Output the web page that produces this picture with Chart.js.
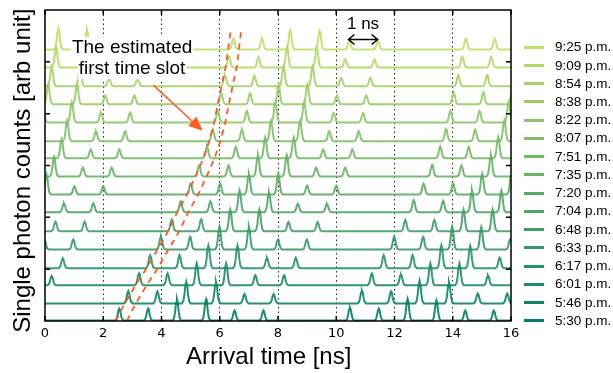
<!DOCTYPE html>
<html>
<head>
<meta charset="utf-8">
<script src="https://cdn.jsdelivr.net/npm/chart.js@4.4.0/dist/chart.umd.min.js"></script>
<style>
  html, body { margin: 0; padding: 0; background: #fff; }
  #wrap { position: relative; width: 613px; height: 373px; }
  #legend { position: absolute; left: 0; top: 0; font: 13.5px "Liberation Sans", Arial, sans-serif; color: #000; }
  .li { position: absolute; left: 524px; height: 18px; width: 89px; }
  .sw { position: absolute; left: 0; top: 7.5px; width: 20px; height: 3px; }
  .lt { position: absolute; left: 31px; top: 0; line-height: 18px; white-space: nowrap; }
</style>
</head>
<body>
<div id="wrap">
  <canvas id="c" width="613" height="373"></canvas>
  <div id="legend"></div>
</div>
<script>
// measurement times, bottom trace first
const labels = ['5:30 p.m.','5:46 p.m.','6:01 p.m.','6:17 p.m.','6:33 p.m.','6:48 p.m.','7:04 p.m.','7:20 p.m.',
                '7:35 p.m.','7:51 p.m.','8:07 p.m.','8:22 p.m.','8:38 p.m.','8:54 p.m.','9:09 p.m.','9:25 p.m.'];
const colors = ['#008066','#0d8666','#1a8c66','#269366','#339966','#409f66','#4da666','#59ac66',
                '#66b366','#73b966','#80bf66','#8cc666','#99cc66','#a6d266','#b3d966','#bfdf66'];

// vertical offset of each trace (arb unit)
const baselines = [0.01, 0.34, 0.69, 1.02, 1.38, 1.73, 2.10, 2.44, 2.79, 3.14, 3.47, 3.83, 4.18, 4.53, 4.89, 5.24];

// peak arrival times [ns] and peak heights, one row per trace
const peakTimes = [
  [2.55, 3.54, 4.53, 5.53, 6.51, 7.50, 10.47, 11.46, 12.45, 13.44, 14.43, 15.41],
  [2.86, 3.86, 4.85, 5.87, 6.85, 7.85, 10.88, 11.88, 12.86, 13.87, 14.86, 15.87],
  [0.23, 3.23, 4.21, 5.21, 6.22, 7.22, 8.21, 11.22, 12.22, 13.23, 14.23, 15.21],
  [0.61, 3.61, 4.62, 5.61, 6.61, 7.62, 8.61, 11.63, 12.62, 13.61, 14.60, 15.61],
  [-0.02, 0.97, 3.98, 4.98, 5.99, 7.00, 8.00, 8.99, 11.99, 12.98, 13.98, 14.98, 15.97],
  [0.36, 1.36, 4.35, 5.36, 6.36, 7.36, 8.36, 9.36, 12.37, 13.37, 14.37, 15.37],
  [0.65, 1.66, 4.66, 5.68, 6.68, 7.69, 8.68, 9.68, 12.66, 13.67, 14.66, 15.67],
  [0.05, 1.01, 2.00, 5.00, 6.01, 7.00, 8.01, 9.00, 10.00, 13.00, 14.01, 15.01, 16.01],
  [0.31, 1.30, 2.29, 5.29, 6.30, 7.31, 8.30, 9.31, 10.31, 13.29, 14.30, 15.31],
  [0.57, 1.57, 2.55, 5.56, 6.55, 7.56, 8.54, 9.55, 10.55, 13.57, 14.55, 15.56],
  [0.76, 1.75, 2.75, 5.76, 6.76, 7.76, 8.76, 9.76, 10.77, 13.77, 14.77, 15.77],
  [-0.07, 0.92, 1.92, 2.92, 5.93, 6.93, 7.91, 8.90, 9.91, 10.92, 13.92, 14.92, 15.92],
  [0.11, 1.10, 2.07, 3.07, 6.05, 7.04, 8.02, 9.01, 10.02, 11.03, 14.03, 15.05, 16.05],
  [0.23, 1.20, 2.20, 3.18, 6.18, 7.19, 8.19, 9.19, 10.17, 11.17, 14.19, 15.18],
  [0.38, 1.37, 2.35, 3.34, 6.32, 7.33, 8.31, 9.33, 10.31, 11.31, 14.33, 15.32],
  [0.46, 1.44, 2.47, 3.47, 6.47, 7.45, 8.42, 9.43, 10.45, 11.43, 14.45, 15.44]
];
const peakHeights = [
  [0.23, 0.23, 0.41, 0.41, 0.19, 0.19, 0.25, 0.23, 0.42, 0.39, 0.19, 0.19],
  [0.24, 0.23, 0.42, 0.42, 0.18, 0.18, 0.25, 0.23, 0.44, 0.41, 0.19, 0.19],
  [0.18, 0.23, 0.23, 0.42, 0.42, 0.19, 0.19, 0.23, 0.21, 0.42, 0.42, 0.19],
  [0.19, 0.25, 0.25, 0.44, 0.44, 0.20, 0.20, 0.25, 0.25, 0.44, 0.43, 0.20],
  [0.19, 0.19, 0.25, 0.24, 0.44, 0.44, 0.19, 0.19, 0.25, 0.24, 0.44, 0.43, 0.19],
  [0.19, 0.19, 0.23, 0.23, 0.42, 0.42, 0.18, 0.18, 0.22, 0.22, 0.42, 0.42],
  [0.17, 0.17, 0.21, 0.21, 0.42, 0.38, 0.16, 0.16, 0.23, 0.22, 0.42, 0.41],
  [0.39, 0.16, 0.16, 0.21, 0.21, 0.40, 0.40, 0.17, 0.17, 0.21, 0.21, 0.40, 0.40],
  [0.37, 0.17, 0.17, 0.21, 0.21, 0.41, 0.41, 0.17, 0.17, 0.22, 0.21, 0.41],
  [0.37, 0.17, 0.17, 0.23, 0.22, 0.40, 0.40, 0.17, 0.17, 0.23, 0.22, 0.41],
  [0.39, 0.19, 0.19, 0.23, 0.22, 0.39, 0.39, 0.19, 0.19, 0.23, 0.22, 0.39],
  [0.39, 0.39, 0.19, 0.19, 0.23, 0.22, 0.39, 0.39, 0.18, 0.18, 0.23, 0.22, 0.39],
  [0.38, 0.38, 0.17, 0.17, 0.22, 0.21, 0.38, 0.38, 0.17, 0.17, 0.23, 0.23, 0.38],
  [0.38, 0.38, 0.16, 0.16, 0.21, 0.20, 0.38, 0.38, 0.16, 0.16, 0.21, 0.21],
  [0.38, 0.38, 0.17, 0.17, 0.21, 0.20, 0.38, 0.38, 0.16, 0.16, 0.21, 0.21],
  [0.41, 0.38, 0.17, 0.17, 0.21, 0.21, 0.37, 0.36, 0.17, 0.17, 0.21, 0.21]
];

// single photon pulse outline (offset in ns, fraction of peak height)
const pulseDx  = [-0.15, -0.1, -0.065, -0.03, 0, 0.03, 0.065, 0.1, 0.15];
const pulseRel = [0, 0.1, 0.38, 0.84, 1, 0.84, 0.38, 0.1, 0];

// orange dashed guides around the first time slot
const guideY      = [0.00, 0.34, 0.69, 1.02, 1.38, 1.73, 2.10, 2.44, 2.79, 3.14, 3.47, 3.83, 4.18, 4.53, 4.89, 5.62];
const guideLeftX  = [2.43, 2.74, 3.11, 3.49, 3.86, 4.23, 4.54, 4.88, 5.17, 5.44, 5.64, 5.81, 5.93, 6.06, 6.20, 6.38];
const guideRightX = [2.81, 3.12, 3.49, 3.87, 4.24, 4.61, 4.92, 5.26, 5.55, 5.82, 6.02, 6.19, 6.31, 6.44, 6.58, 6.74];

const xTicks = [0, 2, 4, 6, 8, 10, 12, 14, 16];
const yTicks = [1, 2, 3, 4, 5];

// annotations, in data units
const noteLines = ['The estimated', 'first time slot'];
const noteX = 2.99, noteY = [5.17, 4.76];
const arrowFrom = [3.72, 4.55], arrowTo = [5.41, 3.67];
const nsText = '1 ns', nsFrom = 10.42, nsTo = 11.42, nsArrowY = 5.43, nsTextY = 5.63;

function traceData(i) {
  const pts = [{x: -0.5, y: baselines[i]}];
  peakTimes[i].forEach((t, j) => {
    pulseDx.forEach((d, k) => pts.push({x: t + d, y: baselines[i] + peakHeights[i][j] * pulseRel[k]}));
  });
  pts.push({x: 16.5, y: baselines[i]});
  return pts;
}

function hexA(hex, a) {
  const n = parseInt(hex.slice(1), 16);
  return `rgba(${n >> 16},${(n >> 8) & 255},${n & 255},${a})`;
}

const datasets = labels.map((lab, i) => ({
  label: lab, data: traceData(i), borderColor: hexA(colors[i], 0.9), borderWidth: 2,
  pointRadius: 0, tension: 0, fill: false, clip: 0
}));
const orange = '#ff5a1e';
[guideLeftX, guideRightX].forEach((gx, n) => {
  datasets.push({
    label: 'guide' + n, data: gx.map((x, i) => ({x, y: guideY[i]})), borderColor: orange,
    borderWidth: 1.8, borderDash: [6, 5], pointRadius: 0, tension: 0, fill: false, order: -1, clip: 0
  });
});

const sans = '"Liberation Sans", Arial, sans-serif';

const framePlugin = {
  id: 'frame',
  afterDraw(chart) {
    const {ctx, chartArea: a, scales: {x, y}} = chart;
    ctx.save();
    ctx.strokeStyle = '#000';
    ctx.lineWidth = 1.5;
    ctx.beginPath();
    xTicks.forEach(v => {
      const px = x.getPixelForValue(v);
      ctx.moveTo(px, a.bottom); ctx.lineTo(px, a.bottom - 5);
      ctx.moveTo(px, a.top); ctx.lineTo(px, a.top + 5);
    });
    yTicks.forEach(v => {
      const py = y.getPixelForValue(v);
      ctx.moveTo(a.left, py); ctx.lineTo(a.left + 5, py);
      ctx.moveTo(a.right, py); ctx.lineTo(a.right - 5, py);
    });
    ctx.stroke();
    ctx.strokeRect(a.left, a.top, a.right - a.left, a.bottom - a.top);

    // axis titles
    ctx.fillStyle = '#000';
    ctx.font = '24px ' + sans;
    ctx.textAlign = 'center';
    ctx.textBaseline = 'alphabetic';
    ctx.fillText('Arrival time [ns]', x.getPixelForValue(7.68), 364);
    ctx.translate(30, y.getPixelForValue(2.9));
    ctx.rotate(-Math.PI / 2);
    ctx.fillText('Single photon counts [arb unit]', 0, 0);
    ctx.restore();
  }
};

const notePlugin = {
  id: 'notes',
  afterDatasetsDraw(chart) {
    const {ctx, scales: {x, y}} = chart;
    ctx.save();
    ctx.font = '19px ' + sans;
    ctx.textAlign = 'center';
    ctx.textBaseline = 'alphabetic';
    noteLines.forEach((s, i) => {
      const cx = x.getPixelForValue(noteX), by = y.getPixelForValue(noteY[i]);
      const w = ctx.measureText(s).width;
      ctx.fillStyle = '#fff';
      ctx.fillRect(cx - w / 2 - 1, by - 16, w + 2, 21);
      ctx.fillStyle = '#000';
      ctx.fillText(s, cx, by);
    });

    // orange arrow
    const x0 = x.getPixelForValue(arrowFrom[0]), y0 = y.getPixelForValue(arrowFrom[1]);
    const x1 = x.getPixelForValue(arrowTo[0]), y1 = y.getPixelForValue(arrowTo[1]);
    const ang = Math.atan2(y1 - y0, x1 - x0), hl = 14, hw = 6;
    ctx.strokeStyle = orange; ctx.fillStyle = orange; ctx.lineWidth = 1.5;
    ctx.beginPath();
    ctx.moveTo(x0, y0);
    ctx.lineTo(x1 - hl * Math.cos(ang), y1 - hl * Math.sin(ang));
    ctx.stroke();
    ctx.beginPath();
    ctx.moveTo(x1, y1);
    ctx.lineTo(x1 - hl * Math.cos(ang) + hw * Math.sin(ang), y1 - hl * Math.sin(ang) - hw * Math.cos(ang));
    ctx.lineTo(x1 - hl * Math.cos(ang) - hw * Math.sin(ang), y1 - hl * Math.sin(ang) + hw * Math.cos(ang));
    ctx.closePath();
    ctx.fill();

    // 1 ns marker
    const a0 = x.getPixelForValue(nsFrom), a1 = x.getPixelForValue(nsTo), ay = y.getPixelForValue(nsArrowY);
    ctx.strokeStyle = '#000'; ctx.lineWidth = 1.5;
    ctx.beginPath();
    ctx.moveTo(a0, ay); ctx.lineTo(a1, ay);
    ctx.moveTo(a0 + 6, ay - 5); ctx.lineTo(a0, ay); ctx.lineTo(a0 + 6, ay + 5);
    ctx.moveTo(a1 - 6, ay - 5); ctx.lineTo(a1, ay); ctx.lineTo(a1 - 6, ay + 5);
    ctx.stroke();
    ctx.fillStyle = '#000';
    ctx.font = '17px ' + sans;
    ctx.fillText(nsText, (a0 + a1) / 2, y.getPixelForValue(nsTextY));
    ctx.restore();
  }
};

new Chart(document.getElementById('c'), {
  type: 'line',
  data: {datasets},
  options: {
    responsive: false,
    animation: false,
    devicePixelRatio: 1,
    layout: {padding: {top: 10, right: 102, left: 0, bottom: 0}},
    plugins: {legend: {display: false}, tooltip: {enabled: false}},
    scales: {
      x: {
        type: 'linear', min: 0, max: 16,
        afterFit: s => { s.height = 52; },
        ticks: {stepSize: 2, padding: 5, color: '#000', font: {family: 'DejaVu Sans', size: 13}},
        grid: {
          drawTicks: false, lineWidth: 1,
          color: c => (c.tick && (c.tick.value === 0 || c.tick.value === 16)) ? 'rgba(0,0,0,0)' : '#222'
        },
        border: {display: false, dash: [1.5, 3]}
      },
      y: {
        min: 0, max: 6,
        afterFit: s => { s.width = 45; },
        ticks: {display: false, stepSize: 1},
        grid: {display: false},
        border: {display: false}
      }
    }
  },
  plugins: [framePlugin, notePlugin]
});

// legend, newest time on top
const leg = document.getElementById('legend');
for (let i = labels.length - 1; i >= 0; i--) {
  const row = 15 - i;
  const li = document.createElement('div');
  li.className = 'li';
  li.style.top = (47.3 - 9 + row * 18.23) + 'px';
  li.innerHTML = `<div class="sw" style="background:${colors[i]}"></div><div class="lt">${labels[i]}</div>`;
  leg.appendChild(li);
}
</script>
</body>
</html>
